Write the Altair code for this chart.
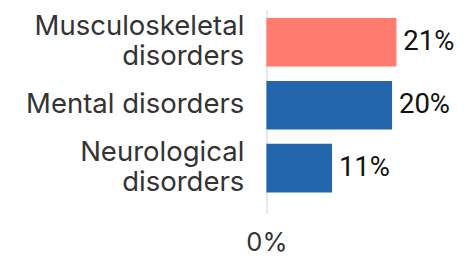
import altair as alt
import pandas as pd

categories = ["Musculoskeletal disorders", "Mental disorders", "Neurological disorders"]
values = [21.0, 20.3, 10.6]
value_labels = ["21%", "20%", "11%"]
highlight = ["yes", "no", "no"]
x_ticks = [0]

df = pd.DataFrame({"cat": categories, "val": values, "lab": value_labels, "hl": highlight})

FONT = "Inter"

y_enc = alt.Y("cat:N", sort=categories, title=None,
              scale=alt.Scale(paddingInner=0.227, paddingOuter=0.23, align=0.27),
              axis=alt.Axis(domain=False, ticks=False, labelPadding=23,
                            labelFontSize=28, labelFont=FONT, labelColor="#333333",
                            labelLineHeight=30, labelLimit=400,
                            labelOffset={"condition": {"test": "length(datum.value) > 16", "value": -15}, "value": 0},
                            labelExpr="length(datum.label) > 16 ? split(datum.label, ' ') : datum.label"))

x_enc = alt.X("val:Q", title=None, scale=alt.Scale(domain=[0, 30], nice=False),
              axis=alt.Axis(values=x_ticks, domain=False, ticks=False, grid=True,
                            gridColor="#e8e8e8", gridWidth=2, labelPadding=17, labelFlush=False,
                            labelFontSize=26, labelFont=FONT, labelColor="#333333",
                            labelExpr="datum.value + '%'"))

bars = alt.Chart(df).mark_bar().encode(
    x=x_enc, y=y_enc,
    color=alt.Color("hl:N", scale=alt.Scale(domain=["yes", "no"], range=["#FF7B6D", "#2366AB"]), legend=None),
)

text = alt.Chart(df).mark_text(align="left", baseline="middle", dx=7, fontSize=28, font="Roboto", color="#111111").encode(
    x=alt.X("val:Q"), y=alt.Y("cat:N", sort=categories), text="lab:N"
)

chart = (bars + text).properties(
    width=189, height=207,
    autosize=alt.AutoSizeParams(type="none"),
    padding={"left": 263, "top": 0, "right": 6, "bottom": 42},
).configure_view(stroke=None)

chart.save("out.html", embed_options={"renderer": "svg", "actions": False})
